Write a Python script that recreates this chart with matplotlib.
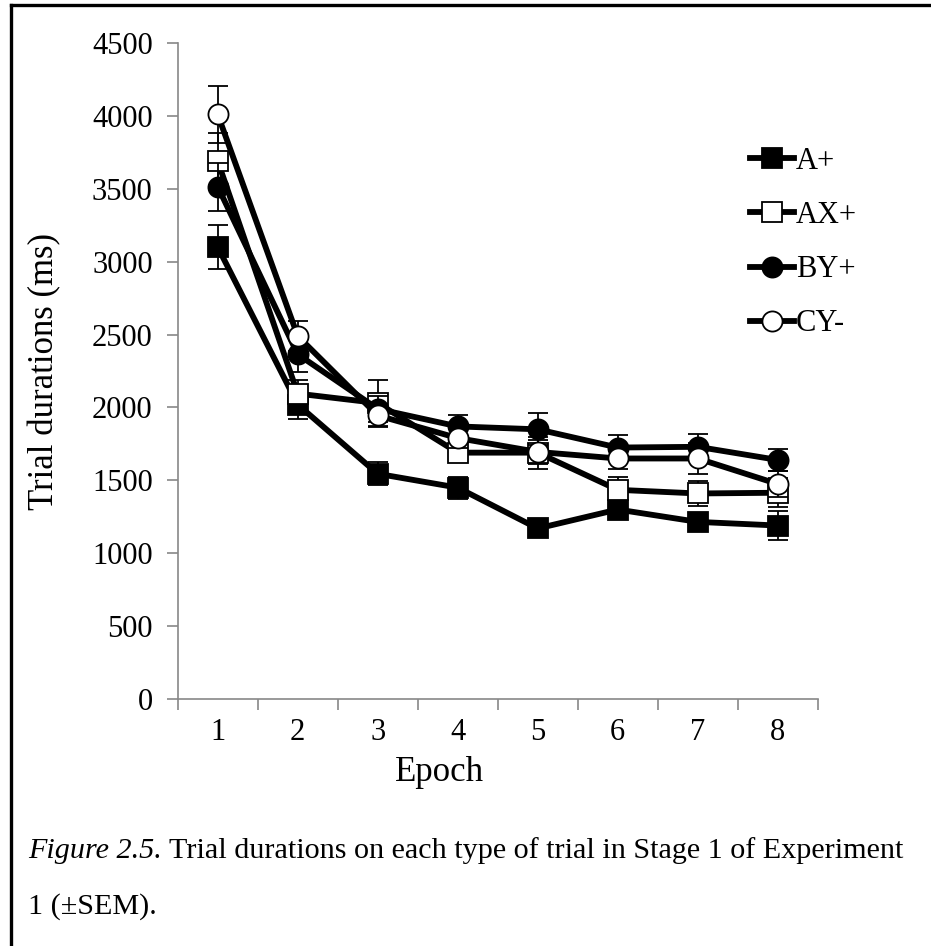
import numpy as np
import matplotlib.pyplot as plt
from matplotlib.lines import Line2D

plt.rcParams['font.family'] = ['Liberation Serif', 'DejaVu Serif']

# --- data ---
epochs = [1, 2, 3, 4, 5, 6, 7, 8]
a_plus = [3100, 2020, 1545, 1450, 1170, 1300, 1215, 1190]
a_sem = [150, 100, 80, 75, 50, 60, 60, 100]
ax_plus = [3690, 2095, 2030, 1690, 1690, 1435, 1410, 1415]
ax_sem = [190, 90, 155, 60, 110, 85, 85, 100]
by_plus = [3515, 2365, 1990, 1870, 1850, 1725, 1730, 1640]
by_sem = [165, 120, 90, 75, 110, 85, 90, 75]
cy_minus = [4010, 2490, 1945, 1790, 1695, 1650, 1650, 1475]
cy_sem = [195, 105, 80, 70, 80, 70, 105, 90]
series_names = ['A+', 'AX+', 'BY+', 'CY-']
y_ticks = [0, 500, 1000, 1500, 2000, 2500, 3000, 3500, 4000, 4500]

fig = plt.figure(figsize=(9.31, 9.46), dpi=100)
ax = fig.add_axes([0.1909, 0.2611, 0.6874, 0.6934])

styles = [('s', 'black'), ('s', 'white'), ('o', 'black'), ('o', 'white')]
means = [a_plus, ax_plus, by_plus, cy_minus]
sems = [a_sem, ax_sem, by_sem, cy_sem]

for i, (m, s, (mk, fc), name) in enumerate(zip(means, sems, styles, series_names)):
    ax.errorbar(epochs, m, yerr=s, color='black', lw=4.2, marker=mk,
                markersize=14.5, markerfacecolor=fc, markeredgecolor='black',
                markeredgewidth=1.3, ecolor='black', elinewidth=1.3,
                capsize=7, capthick=1.3, label=name, zorder=3 + i)

ax.set_xlim(0.5, 8.5)
ax.set_ylim(0, 4500)
ax.set_yticks(y_ticks)
ax.set_xticks(epochs)
ax.set_xticks(np.arange(0.5, 9, 1), minor=True)
ax.tick_params(axis='x', which='major', length=0, labelsize=22, pad=14)
ax.tick_params(axis='x', which='minor', length=8, width=1.2, color='#888888')
ax.tick_params(axis='y', length=8, width=1.2, color='#888888', labelsize=22, pad=10)

for side in ['top', 'right']:
    ax.spines[side].set_visible(False)
for side in ['left', 'bottom']:
    ax.spines[side].set_color('#888888')
    ax.spines[side].set_linewidth(1.2)

ax.set_ylabel('Trial durations (ms)', fontsize=25, labelpad=22)
fig.text(439 / 931, 1 - 772 / 946, 'Epoch', fontsize=25, ha='center', va='center')

handles, labels = ax.get_legend_handles_labels()
handles = [h[0] for h in handles]
ax.legend(handles, labels, loc='upper left', bbox_to_anchor=(0.875, 0.86),
          frameon=False, fontsize=22, handlelength=1.45, handletextpad=0.05,
          labelspacing=0.82, borderaxespad=0)

# caption
t1 = fig.text(28 / 931, 1 - 864 / 946, 'Figure 2.5.', fontsize=21.7,
              style='italic', va='bottom')
plt.annotate(' Trial durations on each type of trial in Stage 1 of Experiment',
             xy=(1, 0), xycoords=t1, va='bottom', ha='left', fontsize=21.7,
             annotation_clip=False)
fig.text(28 / 931, 1 - 920 / 946, '1 (\u00b1SEM).', fontsize=21.7, va='bottom')

# page border (top and left)
fig.add_artist(Line2D([11 / 931, 1], [1 - 5 / 946, 1 - 5 / 946], color='black', lw=2.4))
fig.add_artist(Line2D([11 / 931, 11 / 931], [0, 1 - 5 / 946], color='black', lw=2.4))

fig.savefig('out.png', dpi=100)
